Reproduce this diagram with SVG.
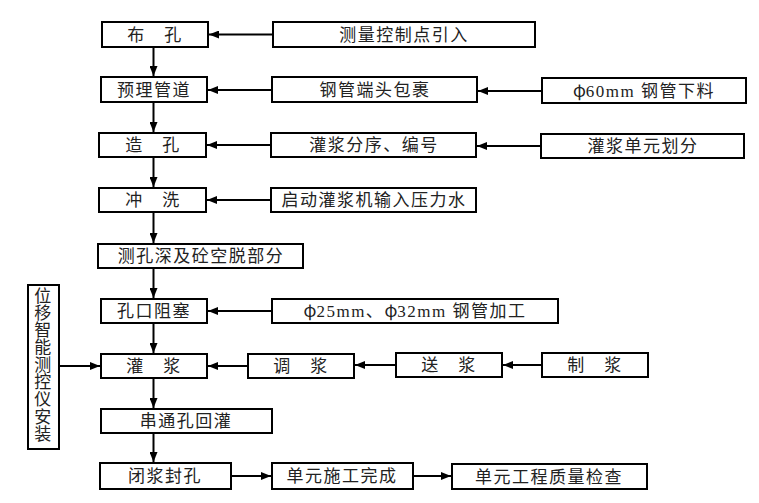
<svg xmlns="http://www.w3.org/2000/svg" width="759" height="503" viewBox="0 0 759 503">
<style>
.box{fill:#fff;stroke:#000;stroke-width:2}
.t{font-family:"Liberation Serif","Noto Sans CJK SC",serif;font-size:17px;letter-spacing:1.5px;text-anchor:middle;fill:#222}
.phi{font-family:"Noto Sans CJK SC",sans-serif;letter-spacing:0}
.c line{stroke:#000;stroke-width:2;fill:none}
</style>
<defs>
<marker id="ah" viewBox="0 0 10 8" refX="10" refY="4" markerWidth="10" markerHeight="8" markerUnits="userSpaceOnUse" orient="auto">
<path d="M0,0 L10,4 L0,8 z" fill="#000"/>
</marker>
</defs>
<g class="c">
<line x1="153.5" y1="47" x2="153.5" y2="76" marker-end="url(#ah)"/>
<line x1="153.5" y1="102" x2="153.5" y2="132" marker-end="url(#ah)"/>
<line x1="153.5" y1="157" x2="153.5" y2="187" marker-end="url(#ah)"/>
<line x1="153.5" y1="212" x2="153.5" y2="243" marker-end="url(#ah)"/>
<line x1="153.5" y1="268" x2="153.5" y2="298" marker-end="url(#ah)"/>
<line x1="153.5" y1="323" x2="153.5" y2="353" marker-end="url(#ah)"/>
<line x1="153.5" y1="378" x2="153.5" y2="408" marker-end="url(#ah)"/>
<line x1="153.5" y1="433" x2="153.5" y2="462" marker-end="url(#ah)"/>
<line x1="272" y1="34.5" x2="209" y2="34.5" marker-end="url(#ah)"/>
<line x1="271" y1="90" x2="208" y2="90" marker-end="url(#ah)"/>
<line x1="542" y1="91" x2="478" y2="91" marker-end="url(#ah)"/>
<line x1="271" y1="145" x2="207" y2="145" marker-end="url(#ah)"/>
<line x1="541" y1="146" x2="477" y2="146" marker-end="url(#ah)"/>
<line x1="271" y1="200" x2="207" y2="200" marker-end="url(#ah)"/>
<line x1="272" y1="311" x2="208" y2="311" marker-end="url(#ah)"/>
<line x1="59" y1="366" x2="100" y2="366" marker-end="url(#ah)"/>
<line x1="248" y1="366" x2="208" y2="366" marker-end="url(#ah)"/>
<line x1="396" y1="365" x2="355" y2="365" marker-end="url(#ah)"/>
<line x1="542" y1="365" x2="503" y2="365" marker-end="url(#ah)"/>
<line x1="231" y1="476" x2="271" y2="476" marker-end="url(#ah)"/>
<line x1="413" y1="476" x2="451" y2="476" marker-end="url(#ah)"/>
</g>
<g id="n1"><rect class="box" x="102" y="22" width="106" height="25"/><text class="t" x="155" y="40.5">布　孔</text></g>
<g id="n2"><rect class="box" x="273" y="22" width="262" height="25"/><text class="t" x="404" y="40.5">测量控制点引入</text></g>
<g id="n3"><rect class="box" x="101" y="77" width="106" height="25"/><text class="t" x="154" y="95.5">预理管道</text></g>
<g id="n4"><rect class="box" x="272" y="77" width="205" height="25"/><text class="t" x="375" y="95.5">钢管端头包裹</text></g>
<g id="n5"><rect class="box" x="542" y="78" width="204" height="25"/><text class="t" x="644" y="96.5"><tspan class="phi">φ</tspan>60mm 钢管下料</text></g>
<g id="n6"><rect class="box" x="99" y="133" width="107" height="24"/><text class="t" x="153" y="151">造　孔</text></g>
<g id="n7"><rect class="box" x="271" y="133" width="205" height="24"/><text class="t" x="374" y="151">灌浆分序、编号</text></g>
<g id="n8"><rect class="box" x="541" y="134" width="203" height="24"/><text class="t" x="643" y="152">灌浆单元划分</text></g>
<g id="n9"><rect class="box" x="99" y="188" width="107" height="24"/><text class="t" x="153" y="206">冲　洗</text></g>
<g id="n10"><rect class="box" x="271" y="188" width="205" height="24"/><text class="t" x="374" y="206">启动灌浆机输入压力水</text></g>
<g id="n11"><rect class="box" x="98" y="244" width="205" height="24"/><text class="t" x="201" y="262">测孔深及砼空脱部分</text></g>
<g id="n12"><rect class="box" x="101" y="299" width="106" height="24"/><text class="t" x="154" y="317">孔口阻塞</text></g>
<g id="n13"><rect class="box" x="272" y="299" width="286" height="24"/><text class="t" x="415" y="317"><tspan class="phi">φ</tspan>25mm、<tspan class="phi">φ</tspan>32mm 钢管加工</text></g>
<g id="n14"><rect class="box" x="28" y="285" width="31" height="164"/>
<text class="t" x="43.5" y="301.5">位</text><text class="t" x="43.5" y="318.8">移</text><text class="t" x="43.5" y="336.1">智</text><text class="t" x="43.5" y="353.4">能</text><text class="t" x="43.5" y="370.7">测</text><text class="t" x="43.5" y="388">控</text><text class="t" x="43.5" y="405.3">仪</text><text class="t" x="43.5" y="422.6">安</text><text class="t" x="43.5" y="439.9">装</text></g>
<g id="n15"><rect class="box" x="101" y="354" width="106" height="24"/><text class="t" x="154" y="372">灌　浆</text></g>
<g id="n16"><rect class="box" x="248" y="354" width="106" height="24"/><text class="t" x="301" y="372">调　浆</text></g>
<g id="n17"><rect class="box" x="396" y="353" width="106" height="24"/><text class="t" x="449" y="371">送　浆</text></g>
<g id="n18"><rect class="box" x="542" y="353" width="106" height="24"/><text class="t" x="595" y="371">制　浆</text></g>
<g id="n19"><rect class="box" x="101" y="409" width="171" height="24"/><text class="t" x="186" y="427">串通孔回灌</text></g>
<g id="n20"><rect class="box" x="100" y="463" width="131" height="26"/><text class="t" x="165" y="482">闭浆封孔</text></g>
<g id="n21"><rect class="box" x="272" y="463" width="141" height="26"/><text class="t" x="342" y="482">单元施工完成</text></g>
<g id="n22"><rect class="box" x="452" y="464" width="195" height="25"/><text class="t" x="549" y="482.5">单元工程质量检查</text></g>
</svg>
